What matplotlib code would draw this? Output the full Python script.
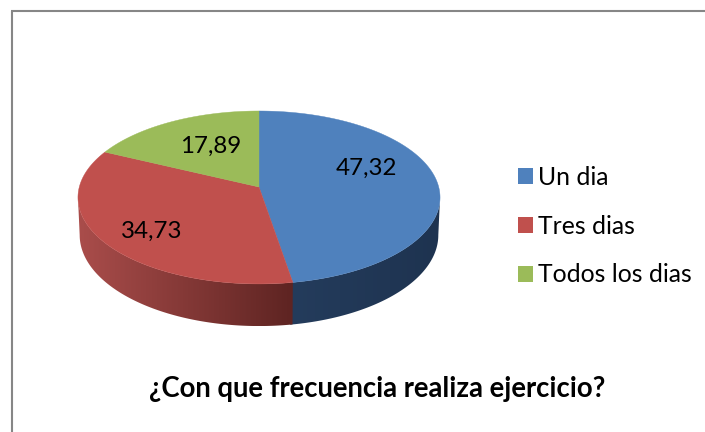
import numpy as np
import matplotlib
matplotlib.use('Agg')
import matplotlib.pyplot as plt
from matplotlib.colors import LinearSegmentedColormap
from matplotlib.patches import Patch, Polygon

# Data
categories = ['Un dia', 'Tres dias', 'Todos los dias']
values = [47.32, 34.73, 17.89]
value_labels = ['47,32', '34,73', '17,89']
title = '¿Con que frecuencia realiza ejercicio?'

# Styles
top_colors = ['#4F81BD', '#C0504D', '#9BBB59']
side_left = ['#243C5C', '#AA4D4B', '#9BBB59']
side_right = ['#1E3350', '#5E2422', '#9BBB59']
label_pos = [(366, 168), (152, 231), (211, 146)]

# Projection of the pie disc, in pixels of the 705x432 image
CX, CY_TOP, CY_BOT = 259, 187, 224
A_TOP, B_TOP = 179.7, 85.2
A_BOT, B_BOT = 178.0, 89.7
K = 0.121


def project(theta, cy, a, b):
    """theta in radians, clockwise from 12 o'clock"""
    u = np.sin(theta)
    v = np.cos(theta)
    w = 1 + K * v
    return CX + a * u / w, cy - b * v / w


fig = plt.figure(figsize=(7.05, 4.32), dpi=100)
ax = fig.add_axes([0, 0, 1, 1])
ax.axis('off')

# chart frame, only left and top show
ax.plot([12, 12], [432, 11], color='#868686', lw=1.5, solid_capstyle='butt')
ax.plot([11.3, 705], [11, 11], color='#868686', lw=1.5, solid_capstyle='butt')

shares = np.array(values) / np.sum(values)
edges = np.concatenate([[0], np.cumsum(shares)]) * 2 * np.pi

# side wall, visible between the two outermost points of the rim
turn = np.arccos(-K)
for i in range(len(values)):
    t0, t1 = max(edges[i], turn), min(edges[i + 1], 2 * np.pi - turn)
    if t1 <= t0:
        continue
    if i == 0:
        t1 += 0.012  # run under the next slice, no seam
    ts = np.linspace(t0, t1, 200)
    xt, yt = project(ts, CY_TOP, A_TOP, B_TOP)
    xb, yb = project(ts, CY_BOT, A_BOT, B_BOT)
    pts = np.column_stack([np.r_[xt, xb[::-1]], np.r_[yt, yb[::-1]]])
    outline = Polygon(pts, closed=True, facecolor='none', edgecolor='none', transform=ax.transData)
    ax.add_patch(outline)
    cmap = LinearSegmentedColormap.from_list('side', [side_left[i], side_right[i]])
    img = ax.imshow(np.linspace(0, 1, 256).reshape(1, -1), cmap=cmap, aspect='auto',
                    extent=(pts[:, 0].min(), pts[:, 0].max(), pts[:, 1].max(), pts[:, 1].min()),
                    interpolation='bilinear')
    img.set_clip_path(outline)

ax.set_xlim(0, 705)
ax.set_ylim(432, 0)

# top face
for i in range(len(values)):
    ts = np.linspace(edges[i], edges[i + 1], 200)
    x, y = project(ts, CY_TOP, A_TOP, B_TOP)
    pts = np.column_stack([np.r_[CX, x], np.r_[CY_TOP, y]])
    ax.add_patch(Polygon(pts, closed=True, facecolor=top_colors[i], edgecolor=top_colors[i], lw=0.3, zorder=3))

for lab, (lx, ly) in zip(value_labels, label_pos):
    ax.text(lx, ly, lab, ha='center', va='center', fontsize=17.4, family='Lato', color='black', zorder=4)

handles = [Patch(facecolor=c, edgecolor='none') for c in top_colors]
ax.legend(handles, categories, loc='center left', bbox_to_anchor=(518 / 705, 1 - 226 / 432),
          frameon=False, prop={'family': 'Lato', 'size': 17.8}, handlelength=0.61, handleheight=0.61,
          handletextpad=0.2, labelspacing=1.05, borderpad=0, borderaxespad=0)

ax.text(377, 389, title, ha='center', va='center', fontsize=19.85, family='Lato', fontweight='bold', color='black')

fig.savefig('out.png', dpi=100)
